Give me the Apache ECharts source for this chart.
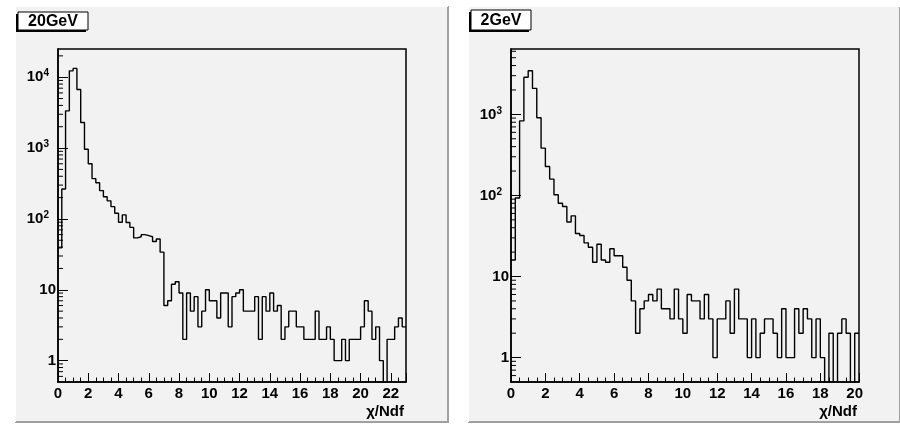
<!DOCTYPE html>
<html><head><meta charset="utf-8">
<script src="https://cdn.jsdelivr.net/npm/echarts@6/dist/echarts.min.js"></script>
<style>html,body{margin:0;padding:0;background:#fff}#c{width:900px;height:428px}</style>
</head><body><div id="c"></div>
<script>
// ---- data ----
const binWidth = 0.25;
const titles = ['20GeV', '2GeV'];
const xMax = [23, 20.25];
const yMax = [25000, 6400];
const yMin = 0.5;
const xLabelInterval = 2;
const xAxisTitle = 'χ/Ndf';
const counts20GeV = [39,265,3350,12300,13300,6700,2300,960,600,370,
  324,251,206,180,149,120,90,114,89,76,
  54,56,60,58,56,48,52,34,6,7,
  12,13,9,2,9,5,8,3,5,10,
  7,7,4,9,9,3,8,9,10,5,
  5,5,8,2,8,5,9,5,6,2,
  3,5,5,3,3,2,2,2,5,2,
  2,3,2,1,1,2,1,2,2,2,
  3,7,5,2,3,1,0,2,2,3,
  4,3];
const counts2GeV = [16,93,830,2870,3450,2090,910,383,227,159,
  102,80,73,47,56,34,32,26,23,15,
  25,16,15,22,18,18,13,9,5,2,
  4,5,6,5,7,4,4,3,7,3,
  2,6,5,5,3,6,3,1,3,3,
  5,2,7,3,3,1,3,1,2,3,
  3,2,1,4,1,1,4,2,4,3,
  1,3,1,0,2,0,2,3,2,0,
  2];
const yMinorTickValues = [0.6,0.7,0.8,0.9,2,3,4,5,6,7,8,9,20,30,40,50,60,70,80,90,
  200,300,400,500,600,700,800,900,2000,3000,4000,5000,6000,7000,8000,9000,20000];

// ---- helpers ----
const FONT = '"Liberation Sans", Arial, Helvetica, sans-serif';
function stepData(counts) {
  const pts = counts.map((c, i) => [i * binWidth, c > 0 ? c : 1e-3]);
  const last = counts[counts.length - 1];
  pts.push([counts.length * binWidth, last > 0 ? last : 1e-3]);
  return pts;
}
const grids = [
  {left: 58, top: 49, width: 348, height: 333},
  {left: 511, top: 49, width: 348, height: 333}
];
function yLabel(v) {
  const e = Math.round(Math.log10(v));
  if (e <= 0) return '{n|1}';
  if (e === 1) return '{n|10}';
  return '{n|10}{s|' + e + '}{sp|}';
}
const xAxes = [], yAxes = [], series = [];
[counts20GeV, counts2GeV].forEach((counts, i) => {
  xAxes.push({
    type: 'value', gridIndex: i, min: 0, max: xMax[i], interval: xLabelInterval,
    axisLine: {show: true, lineStyle: {color: '#000', width: 1.5}},
    axisTick: {show: true, inside: true, length: 9, lineStyle: {color: '#000', width: 1}},
    minorTick: {show: true, splitNumber: 4, length: 4.5, lineStyle: {color: '#000', width: 1}},
    splitLine: {show: false},
    axisLabel: {showMaxLabel: false, color: '#000', fontSize: 15, fontWeight: 'bold', fontFamily: FONT, margin: 4}
  });
  yAxes.push({
    type: 'log', gridIndex: i, min: yMin, max: yMax[i], logBase: 10,
    axisLine: {show: true, lineStyle: {color: '#000', width: 1.5}},
    axisTick: {show: true, inside: true, length: 10, lineStyle: {color: '#000', width: 1}},
    splitLine: {show: false},
    axisLabel: {showMinLabel: false, showMaxLabel: false, margin: 2, formatter: yLabel,
      rich: {
        n: {color: '#000', fontSize: 15, fontWeight: 'bold', fontFamily: FONT, lineHeight: 17},
        s: {color: '#000', fontSize: 10, fontWeight: 'bold', fontFamily: FONT, verticalAlign: 'top', lineHeight: 17, padding: [0, 0, 7, 0]},
        sp: {width: 7}
      }}
  });
  series.push({
    type: 'line', xAxisIndex: i, yAxisIndex: i, step: 'end', data: stepData(counts),
    showSymbol: false, clip: true, lineStyle: {color: '#000', width: 1.4}, silent: true
  });
  series.push({
    type: 'custom', xAxisIndex: i, yAxisIndex: i, silent: true, clip: true,
    data: yMinorTickValues.filter(v => v < yMax[i]).map(v => [0, v]),
    renderItem: function (params, api) {
      const p = api.coord([api.value(0), api.value(1)]);
      return {type: 'line', shape: {x1: p[0], y1: p[1], x2: p[0] + 5, y2: p[1]},
        style: {stroke: '#000', lineWidth: 1}};
    }
  });
});

const padRects = [
  {x: 15, w: 433}, {x: 468, w: 432}
];
const graphic = [];
padRects.forEach((p, i) => {
  graphic.push({type: 'rect', z: -10, shape: {x: p.x, y: 6, width: p.w, height: 416},
    style: {fill: '#f2f2f2'}});
  graphic.push({type: 'polyline', z: -9, shape: {points: [[p.x, 422], [p.x + p.w, 422], [p.x + p.w, 6]]},
    style: {stroke: '#a0a0a0', lineWidth: 2, fill: null}});
  graphic.push({type: 'polyline', z: -9, shape: {points: [[p.x, 422], [p.x, 6], [p.x + p.w, 6]]},
    style: {stroke: '#ffffff', lineWidth: 2, fill: null}});
});
const boxes = [{x: 18, y: 12, w: 70, h: 18}, {x: 471, y: 10, w: 60, h: 20}];
boxes.forEach((b, i) => {
  graphic.push({type: 'rect', z: 10, shape: {x: b.x - 2, y: b.y + 2, width: b.w, height: b.h}, style: {fill: '#000'}});
  graphic.push({type: 'rect', z: 11, shape: {x: b.x, y: b.y, width: b.w, height: b.h}, style: {fill: '#fff', stroke: '#000', lineWidth: 1}});
  graphic.push({type: 'text', z: 12, x: b.x + b.w / 2, y: b.y + b.h / 2 + 1,
    style: {text: titles[i], fill: '#000', font: 'bold 16px ' + FONT, align: 'center', verticalAlign: 'middle'}});
});
grids.forEach(g => {
  graphic.push({type: 'text', z: 12, x: g.left + g.width - 2, y: g.top + g.height + 22,
    style: {text: xAxisTitle, fill: '#000', font: 'bold 15px ' + FONT, align: 'right', verticalAlign: 'top'}});
});

const chart = echarts.init(document.getElementById('c'), null, {renderer: 'canvas'});
chart.setOption({
  animation: false,
  backgroundColor: '#ffffff',
  grid: grids.map(g => Object.assign({show: true, borderColor: '#000', borderWidth: 1.5, backgroundColor: 'transparent'}, g)),
  xAxis: xAxes, yAxis: yAxes, series: series, graphic: graphic
});
</script></body></html>
